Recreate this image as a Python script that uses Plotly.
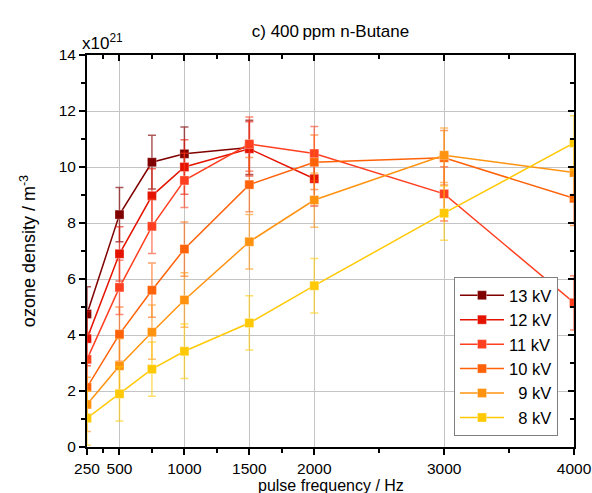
import plotly.graph_objects as go

freq = [250, 500, 750, 1000, 1500, 2000, 3000, 4000]

labels = ["13 kV", "12 kV", "11 kV", "10 kV", "  9 kV", "  8 kV"]

kv13 = [4.75, 8.30, 10.17, 10.47, 10.70]
kv12 = [3.87, 6.90, 8.97, 10.00, 10.65, 9.58]
kv11 = [3.13, 5.70, 7.88, 9.52, 10.82, 10.48, 9.04, 5.15]
kv10 = [2.13, 4.03, 5.60, 7.07, 9.37, 10.17, 10.33, 8.88]
kv9 = [1.52, 2.90, 4.10, 5.25, 7.33, 8.82, 10.42, 9.80]
kv8 = [1.03, 1.90, 2.78, 3.42, 4.43, 5.76, 8.35, 10.86]

err13 = [0.97, 0.97, 0.96, 0.96, 0.97]
err12 = [0.97, 0.97, 0.97, 0.97, 0.97, 0.97]
err11 = [0.97, 0.97, 0.97, 0.97, 0.97, 0.97, 0.97, 0.97]
err10 = [0.97, 0.97, 0.97, 0.97, 0.97, 0.97, 0.97, 0.97]
err9 = [0.97, 0.97, 0.97, 0.97, 0.97, 0.97, 0.97, 0.97]
err8 = [0.97, 0.97, 0.97, 0.97, 0.97, 0.97, 0.97, 0.97]

colors = ["#800000", "#E41300", "#FF3F20", "#FF6208", "#FF9310", "#FFC905"]
errcolors = ["rgba(128,0,0,0.65)", "rgba(228,19,0,0.6)", "rgba(255,63,32,0.6)",
             "rgba(255,98,8,0.6)", "rgba(255,147,16,0.6)", "rgba(255,201,5,0.6)"]

series = [kv13, kv12, kv11, kv10, kv9, kv8]
errors = [err13, err12, err11, err10, err9, err8]

xticks = [250, 500, 1000, 1500, 2000, 3000, 4000]
xminor = [375, 750, 1250, 1750, 2500, 3500]
yticks = [0, 2, 4, 6, 8, 10, 12, 14]
yminor = [1, 3, 5, 7, 9, 11, 13]

fig = go.Figure()
for name, ys, es, c, ec in zip(labels, series, errors, colors, errcolors):
    fig.add_trace(go.Scatter(
        x=freq[:len(ys)], y=ys, name=name, mode="lines+markers",
        line=dict(color=c, width=1.5),
        marker=dict(symbol="square", size=9, color=c,
                    line=dict(width=1, color="rgba(255,255,255,0.3)")),
        error_y=dict(type="data", array=es, visible=True, color=ec,
                     thickness=1.5, width=4),
    ))

fig.add_trace(go.Scatter(x=[None], y=[None], xaxis="x2", yaxis="y2",
                         showlegend=False, hoverinfo="skip"))

font_family = "Liberation Sans, Arial, sans-serif"
axis_common = dict(showline=True, linecolor="black", linewidth=2,
                   zeroline=False, automargin=False)

fig.update_layout(
    width=592, height=493,
    margin=dict(l=87, r=18, t=55, b=46, autoexpand=False),
    paper_bgcolor="white", plot_bgcolor="white",
    font=dict(family=font_family, color="black", size=15),
    title=dict(text="c) 400\u2009ppm n-Butane", x=(87 + 574) / 2 / 592,
               xanchor="center", y=1 - 31 / 493, yanchor="middle",
               font=dict(size=17)),
    xaxis=dict(range=[250, 4000], tickmode="array", tickvals=xticks,
               ticks="outside", ticklen=6, tickwidth=2, tickcolor="black",
               showgrid=True, gridcolor="#C4C4C4", gridwidth=1,
               mirror=True,
               minor=dict(tickmode="array", tickvals=xminor, ticks="outside",
                          ticklen=4, tickwidth=2, tickcolor="black", showgrid=False),
               tickfont=dict(size=15.5), **axis_common),
    yaxis=dict(range=[0, 14], tickmode="array", tickvals=yticks,
               ticks="outside", ticklen=6, tickwidth=2, tickcolor="black",
               showgrid=True, gridcolor="#C4C4C4", gridwidth=1,
               mirror=True,
               minor=dict(tickmode="array", tickvals=yminor, ticks="outside",
                          ticklen=4, tickwidth=2, tickcolor="black", showgrid=False),
               tickfont=dict(size=15.5),
               title=dict(text="ozone density / m<sup>-3</sup>", font=dict(size=18),
                          standoff=18),
               **axis_common),
    xaxis2=dict(range=[250, 4000], overlaying="x", side="top", automargin=False,
                tickmode="array", tickvals=xticks, ticks="inside", ticklen=6,
                tickwidth=2, tickcolor="black", showticklabels=False,
                showgrid=False, zeroline=False, showline=False,
                minor=dict(tickmode="array", tickvals=xminor, ticks="inside",
                           ticklen=4, tickwidth=2, tickcolor="black")),
    yaxis2=dict(range=[0, 14], overlaying="y", side="right", automargin=False,
                tickmode="array", tickvals=yticks, ticks="inside", ticklen=6,
                tickwidth=2, tickcolor="black", showticklabels=False,
                showgrid=False, zeroline=False, showline=False,
                minor=dict(tickmode="array", tickvals=yminor, ticks="inside",
                           ticklen=4, tickwidth=2, tickcolor="black")),
    legend=dict(x=(454 - 87) / 487, y=(447 - 436) / 392, xanchor="left",
                yanchor="bottom", bgcolor="white", bordercolor="#7F7F7F",
                borderwidth=1, font=dict(size=16.5), itemwidth=44,
                tracegroupgap=0),
    annotations=[
        dict(text="x10<sup>21</sup>", xref="paper", yref="paper",
             x=-0.015, y=1.0, xanchor="left", yanchor="bottom",
             showarrow=False, font=dict(size=17)),
        dict(text="pulse frequency / Hz", xref="paper", yref="paper",
             x=0.5, y=(447 - 475) / 392, xanchor="center", yanchor="top",
             showarrow=False, font=dict(size=16)),
    ],
)

fig.write_html("out.html", config={"displayModeBar": False},
               post_script="document.body.style.margin='0';document.body.style.overflow='hidden';")
